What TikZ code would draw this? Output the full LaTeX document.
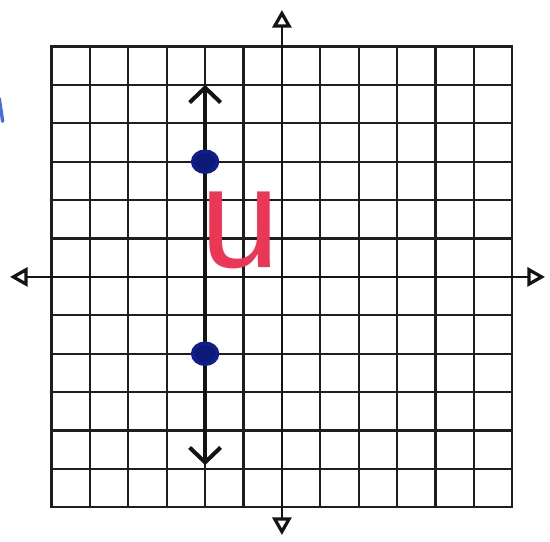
\documentclass[tikz,border=0pt]{standalone}
\usepackage{tikz}
\usepackage{xcolor}
\usepackage{fontspec}
\setmainfont{Liberation Sans}
\usetikzlibrary{arrows.meta,calc,positioning,shapes.geometric}
\definecolor{InkCol}{RGB}{20,20,20}
\definecolor{GridCol}{RGB}{30,30,30}
\definecolor{DotBlue}{RGB}{15,30,140}
\definecolor{MarkRed}{RGB}{235,55,85}
\definecolor{SmudgeBlue}{RGB}{70,110,220}
\tikzset{
  gdgrid/.style={line width=1.6pt, draw=GridCol},
  gdaxis/.style={{Triangle[open,length=13pt,width=14pt,line width=2.4pt]}-{Triangle[open,length=13pt,width=14pt,line width=2.4pt]}, line width=1.9pt, draw=InkCol},
  gdline/.style={{Straight Barb[length=11pt,width=23pt,line width=3pt]}-{Straight Barb[length=11pt,width=23pt,line width=3pt]}, line width=2.6pt, draw=InkCol},
  gddot/.style={ellipse, minimum width=0.64cm, minimum height=0.54cm, inner sep=0pt, draw=DotBlue, line width=2.8pt, fill=DotBlue!85!black},
  gdlab/.style={font=\fontsize{106}{106}\selectfont, text=MarkRed, inner sep=0pt}
}

\begin{document}
\begin{tikzpicture}[x=1cm,y=1cm]
  \useasboundingbox (-7.34,-6.90) rectangle (6.98,7.21);
  \draw[gdgrid] (-6,-6) grid (6,6);
  \draw[gdgrid] (-6,-6) rectangle (6,6);
  % axes
  \coordinate (xl) at (-7.08,0);
  \coordinate (xr) at (6.85,0);
  \coordinate (yb) at (0,-6.72);
  \coordinate (yt) at (0,6.95);
  \draw[gdaxis] (xl) -- (xr);
  \draw[gdaxis] (yb) -- (yt);
  % the line x = -2
  \coordinate (ltop) at (-2,5.0);
  \coordinate (lbot) at (-2,-4.9);
  \draw[gdline] (lbot) -- (ltop);
  \node[gddot] (ptA) at (-2,3) {};
  \node[gddot] (ptB) at (-2,-2) {};
  \node[gdlab] (ulab) at (-1.08,1.22) {u};
  % smudge at the left edge
  \draw[SmudgeBlue, line width=2.5pt, line cap=round] (-7.36,4.65) -- (-7.27,4.05);
\end{tikzpicture}
\end{document}
